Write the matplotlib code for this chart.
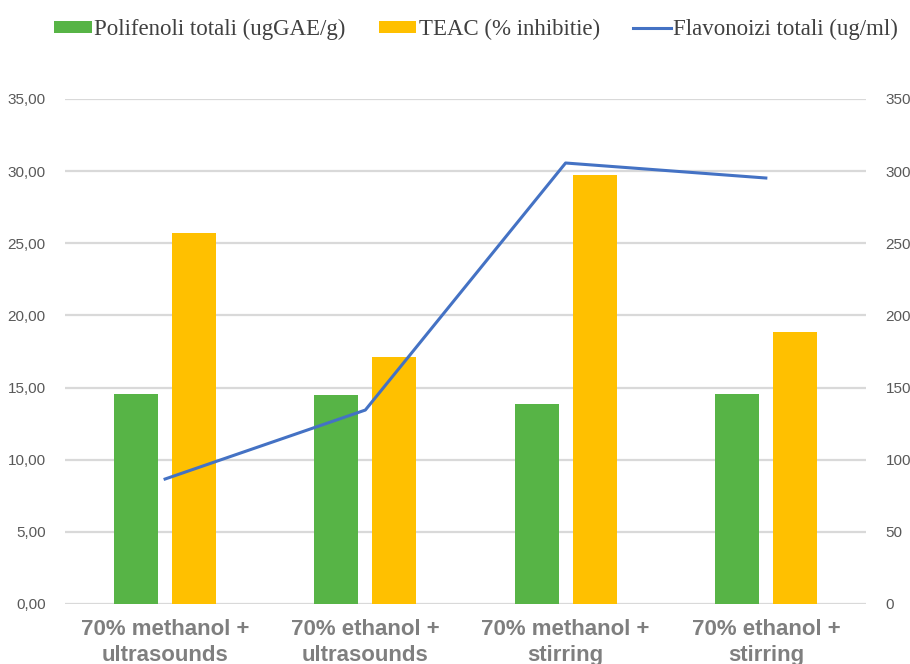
import matplotlib
matplotlib.use("Agg")
import matplotlib.pyplot as plt
from matplotlib.patches import Patch
from matplotlib.lines import Line2D
import numpy as np

categories = ["70% methanol +\nultrasounds", "70% ethanol +\nultrasounds",
              "70% methanol +\nstirring", "70% ethanol +\nstirring"]
polifenoli = [14.55, 14.50, 13.86, 14.55]
teac = [25.70, 17.10, 29.70, 18.85]
flavonoizi = [86.6, 134.4, 305.6, 295.2]
left_ticks = [0, 5, 10, 15, 20, 25, 30, 35]
right_ticks = [0, 50, 100, 150, 200, 250, 300, 350]

fig = plt.figure(figsize=(9.10, 6.64), dpi=100)
ax = fig.add_axes([0.0714, 0.0904, 0.8802, 0.7606])
ax2 = ax.twinx()

x = np.arange(len(categories))
w = 0.22
off = 0.145
green = "#57B446"
orange = "#FFC000"
blue = "#4472C4"
ax.bar(x - off, polifenoli, w, color=green, zorder=3)
ax.bar(x + off, teac, w, color=orange, zorder=3)
ax2.plot(x, flavonoizi, color=blue, lw=2.2, zorder=4)

ax.set_xlim(-0.5, 3.5)
ax.set_ylim(0, 35)
ax2.set_ylim(0, 350)
ax.set_yticks(left_ticks)
ax.set_yticklabels([f"{v:.2f}".replace(".", ",") for v in left_ticks])
ax2.set_yticks(right_ticks)
ax2.set_yticklabels([str(v) for v in right_ticks])
ax.yaxis.grid(True, color="#D9D9D9", lw=1.6, zorder=0)
ax.set_axisbelow(True)
for a in (ax, ax2):
    for s in a.spines.values():
        s.set_visible(False)
    a.tick_params(length=0)
ax.tick_params(axis="y", labelsize=11, labelcolor="#595959", pad=14)
ax2.tick_params(axis="y", labelsize=11, labelcolor="#595959", pad=14)
for lab in ax.get_yticklabels() + ax2.get_yticklabels():
    lab.set_fontfamily("Liberation Sans")

ax.set_xticks(x)
ax.set_xticklabels(categories, fontsize=16, fontweight="bold", color="#7F7F7F",
                   fontfamily="Liberation Sans", linespacing=1.3)
ax.tick_params(axis="x", pad=11)

handles = [Patch(facecolor=green, label="Polifenoli totali (ugGAE/g)"),
           Patch(facecolor=orange, label="TEAC (% inhibitie)"),
           Line2D([0], [0], color=blue, lw=2.2, label="Flavonoizi totali (ug/ml)")]
fig.legend(handles=handles, loc="center", bbox_to_anchor=(0.523, 0.955), ncol=3,
           frameon=False, prop={"family": "Liberation Serif", "size": 16.5},
           handlelength=1.65, handleheight=0.4, handletextpad=0.1, columnspacing=1.45,
           labelcolor="#404040")

fig.savefig("out.png", dpi=100)
